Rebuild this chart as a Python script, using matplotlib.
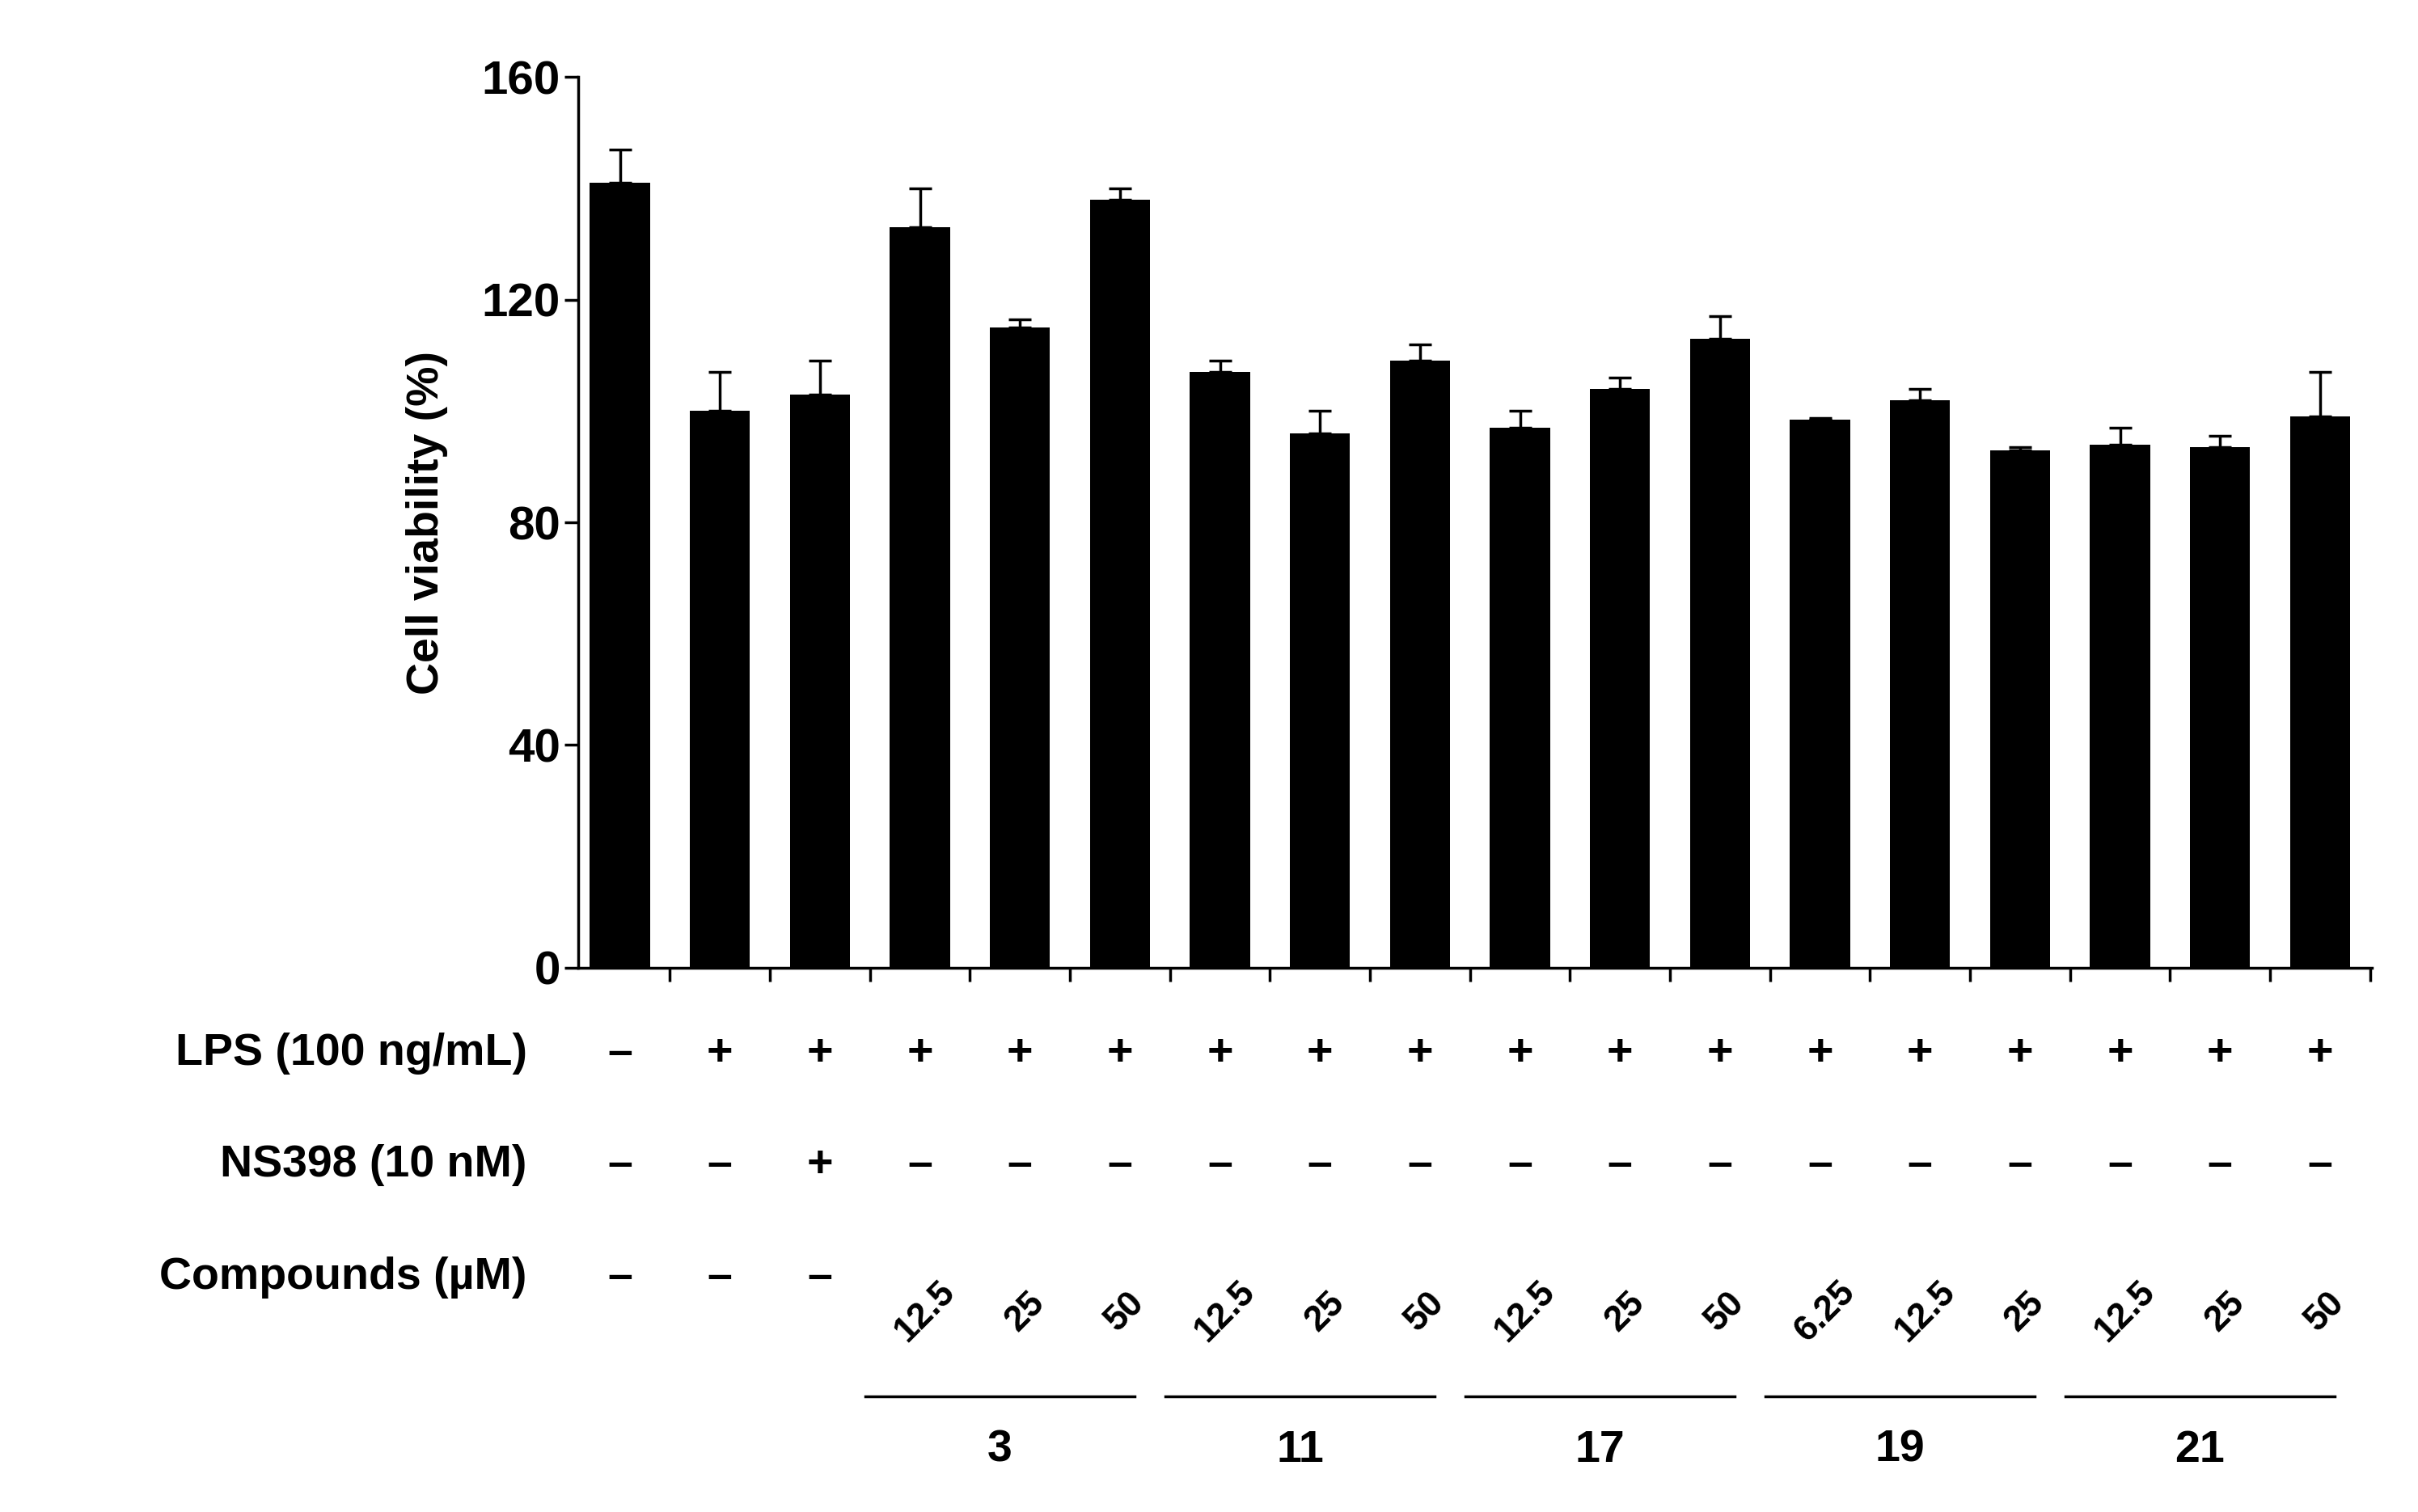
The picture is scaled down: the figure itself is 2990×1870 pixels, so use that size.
import numpy as np
import matplotlib.pyplot as plt
from matplotlib.transforms import blended_transform_factory

plt.rcParams['font.family'] = ['Liberation Sans', 'DejaVu Sans']
plt.rcParams['font.weight'] = 'bold'

values = [141, 100, 103, 133, 115, 138, 107, 96, 109, 97, 104, 113, 98.5, 102, 93, 94, 93.5, 99]
errors = [6, 7, 6, 7, 1.5, 2, 2, 4, 3, 3, 2, 4, 0.3, 2, 0.5, 3, 2, 8]
lps = ['–'] + ['+'] * 17
ns398 = ['–', '–', '+'] + ['–'] * 15
compounds = ['–', '–', '–', '12.5', '25', '50', '12.5', '25', '50', '12.5', '25', '50',
             '6.25', '12.5', '25', '12.5', '25', '50']
groups = ['3', '11', '17', '19', '21']

fig = plt.figure(figsize=(29.9, 18.7), dpi=100)
ax = fig.add_axes([0.239, 0.360, 0.742, 0.589])
x = np.arange(len(values))
ax.bar(x, values, width=0.6, color='black')
ax.errorbar(x, values, yerr=[np.zeros(len(errors)), errors], fmt='none',
            ecolor='black', elinewidth=2.5, capsize=10, capthick=2.5)
ax.set_xlim(-0.42, len(values) - 0.48)
ax.set_ylim(0, 160)
ax.set_yticks([0, 40, 80, 120, 160])
ax.set_xticks(np.arange(len(values)) + 0.5)
ax.set_xticklabels([])
ax.tick_params(axis='both', direction='out', width=2.5, length=12, labelsize=42)
for s in ['top', 'right']:
    ax.spines[s].set_visible(False)
for s in ['left', 'bottom']:
    ax.spines[s].set_linewidth(2.5)
ax.set_ylabel('Cell viability (%)', fontsize=40, fontweight='bold', labelpad=30)

tr = blended_transform_factory(ax.transData, fig.transFigure)
fs = 40
rows = [(lps, 'LPS (100 ng/mL)', 1 - 683 / 980), (ns398, 'NS398 (10 nM)', 1 - 755 / 980)]
for labels, name, y in rows:
    fig.text(0.218, y, name, ha='right', va='center', fontsize=fs, fontweight='bold')
    for i, t in enumerate(labels):
        fig.text(i, y, t, transform=tr, ha='center', va='center', fontsize=fs, fontweight='bold')
yc = 1 - 828 / 980
fig.text(0.218, yc, 'Compounds (µM)', ha='right', va='center', fontsize=fs, fontweight='bold')
for i, t in enumerate(compounds):
    if t == '–':
        fig.text(i, yc, t, transform=tr, ha='center', va='center', fontsize=fs, fontweight='bold')
    else:
        fig.text(i + 0.05, 1 - 850 / 980, t, transform=tr, ha='center', va='center',
                 rotation=45, fontsize=32, fontweight='bold')
yl = 1 - 905 / 980
yg = 1 - 940 / 980
for g, name in enumerate(groups):
    a = 3 + 3 * g
    ax.plot([a - 0.55, a + 2.15], [yl, yl], transform=tr, color='black', lw=2.5, clip_on=False)
    fig.text(a + 0.8, yg, name, transform=tr, ha='center', va='center', fontsize=fs, fontweight='bold')

fig.savefig('out.png', dpi=100, facecolor='white')
